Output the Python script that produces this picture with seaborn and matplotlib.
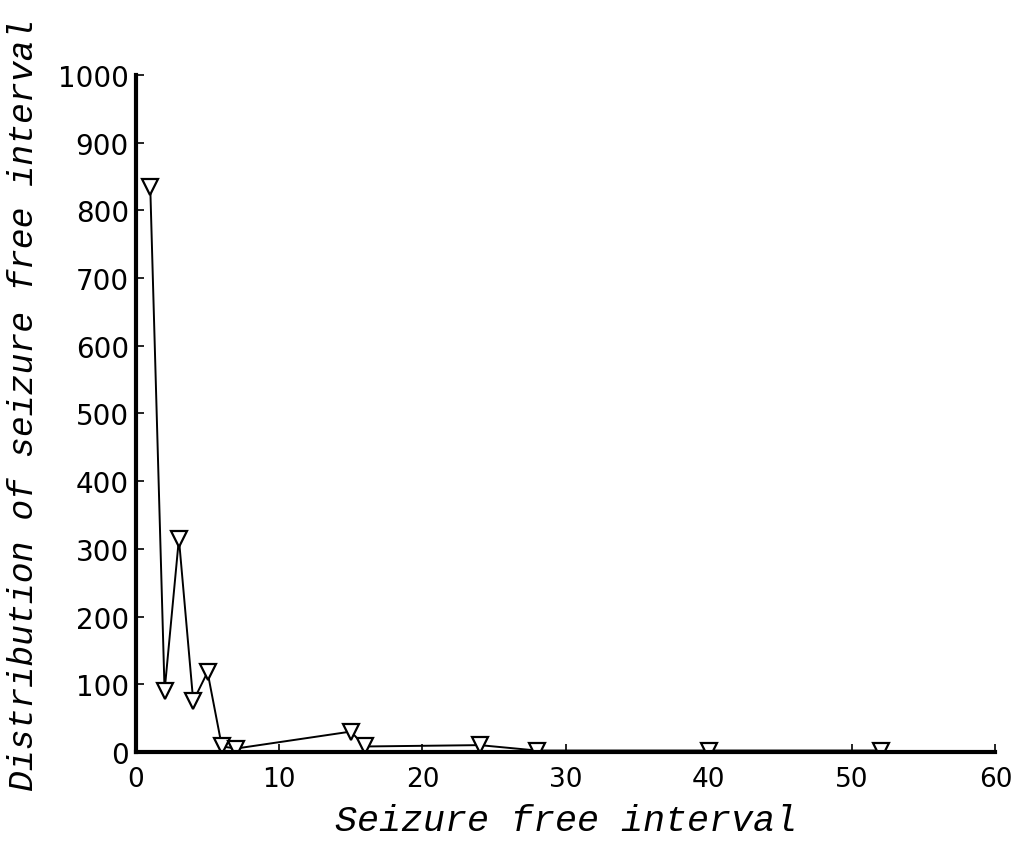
import matplotlib
matplotlib.use("Agg")
import matplotlib.pyplot as plt
import seaborn as sns
import pandas as pd

# Seizure free interval (days) and how often each interval occurred
interval = [1, 2, 3, 4, 5, 6, 7, 15, 16, 24, 28, 40, 52]
count = [835, 90, 315, 75, 118, 8, 5, 30, 8, 10, 2, 2, 2]

x_ticks = [0, 10, 20, 30, 40, 50, 60]
y_ticks = [0, 100, 200, 300, 400, 500, 600, 700, 800, 900, 1000]

sns.set_style("ticks")
plt.rcParams["font.family"] = ["DejaVu Sans"]
plt.rcParams["text.color"] = "black"
plt.rcParams["axes.labelcolor"] = "black"

df = pd.DataFrame({"interval": interval, "count": count})

fig = plt.figure(figsize=(10.22, 8.45), dpi=100)
ax = fig.add_axes([0.133, 0.109, 0.841, 0.801])

sns.lineplot(data=df, x="interval", y="count", ax=ax, color="black",
             linewidth=1.4, marker="v", markersize=12,
             markerfacecolor="white", markeredgecolor="black",
             markeredgewidth=1.6, sort=False)

ax.set_xlim(0, 60)
ax.set_ylim(0, 1000)
ax.set_xticks(x_ticks)
ax.set_yticks(y_ticks)
ax.tick_params(axis="both", direction="in", length=6, width=1.2,
               colors="black")
ax.tick_params(axis="y", labelsize=20, pad=5)
ax.tick_params(axis="x", labelsize=19, pad=10)

for side in ("top", "right"):
    ax.spines[side].set_visible(False)
for side in ("left", "bottom"):
    ax.spines[side].set_linewidth(3)
    ax.spines[side].set_color("black")

ax.set_xlabel("Seizure free interval", fontsize=26.5, family="Liberation Mono",
              style="italic", labelpad=8)
ax.set_ylabel("Distribution of seizure free interval", fontsize=25,
              family="Liberation Mono", style="italic")
ax.yaxis.set_label_coords(-0.112, 0.515)

fig.savefig("out.png", dpi=100)
